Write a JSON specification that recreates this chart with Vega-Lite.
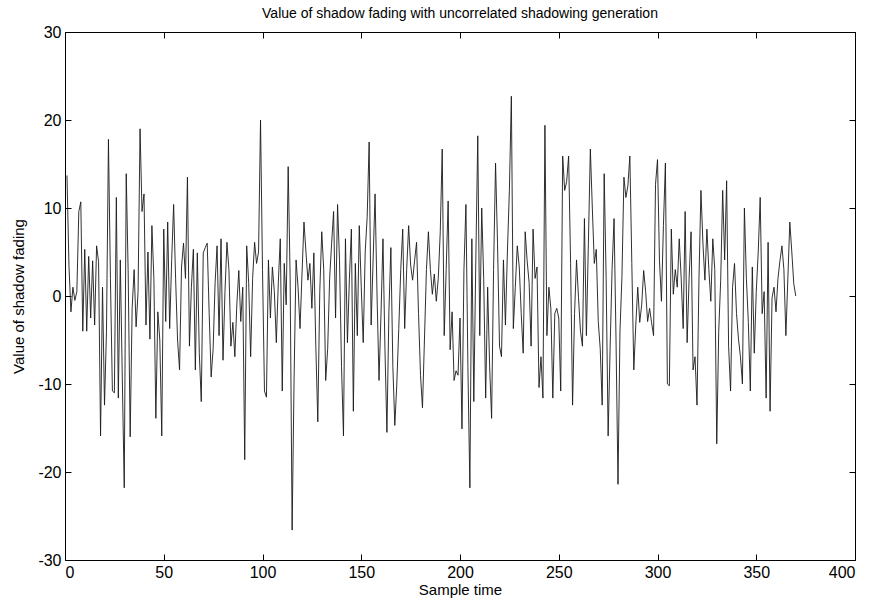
{
  "$schema": "https://vega.github.io/schema/vega-lite/v6.json",
  "autosize": "none",
  "width": 790,
  "height": 528,
  "padding": {"left": 65, "top": 32, "right": 28, "bottom": 46},
  "background": "#ffffff",
  "config": {
    "font": "Liberation Sans",
    "view": {"stroke": "#000000", "strokeWidth": 1},
    "axis": {"labelFont": "Liberation Sans", "titleFont": "Liberation Sans", "labelColor": "#000", "titleColor": "#000", "domainColor": "#000", "tickColor": "#000", "grid": false, "titleFontWeight": "normal"}
  },
  "title": {"text": "Value of shadow fading with uncorrelated shadowing generation", "fontSize": 14, "fontWeight": "normal", "font": "Liberation Sans", "color": "#000", "offset": 3},
  "data": {"values": [
    {"t":1,"v":13.7},{"t":2,"v":3.5},{"t":3,"v":-1.8},{"t":4,"v":1.0},{"t":5,"v":-0.5},{"t":6,"v":0.5},{"t":7,"v":9.6},{"t":8,"v":10.7},{"t":9,"v":-4.0},{"t":10,"v":5.3},
    {"t":11,"v":-4.0},{"t":12,"v":4.5},{"t":13,"v":-2.5},{"t":14,"v":4.0},{"t":15,"v":-3.3},{"t":16,"v":5.7},{"t":17,"v":3.9},{"t":18,"v":-15.9},{"t":19,"v":1.0},{"t":20,"v":-12.4},
    {"t":21,"v":-4.0},{"t":22,"v":17.8},{"t":23,"v":2.0},{"t":24,"v":-10.8},{"t":25,"v":-11.0},{"t":26,"v":11.2},{"t":27,"v":-11.6},{"t":28,"v":4.1},{"t":29,"v":-9.2},{"t":30,"v":-21.8},
    {"t":31,"v":13.9},{"t":32,"v":2.5},{"t":33,"v":-16.0},{"t":34,"v":-1.4},{"t":35,"v":3.0},{"t":36,"v":-3.5},{"t":37,"v":0.5},{"t":38,"v":19.0},{"t":39,"v":9.6},{"t":40,"v":11.6},
    {"t":41,"v":-3.3},{"t":42,"v":5.0},{"t":43,"v":-4.9},{"t":44,"v":8.0},{"t":45,"v":2.0},{"t":46,"v":-13.9},{"t":47,"v":-1.8},{"t":48,"v":-5.0},{"t":49,"v":-15.9},{"t":50,"v":7.6},
    {"t":51,"v":-2.9},{"t":52,"v":8.4},{"t":53,"v":-3.7},{"t":54,"v":4.0},{"t":55,"v":10.4},{"t":56,"v":2.0},{"t":57,"v":-5.0},{"t":58,"v":-8.4},{"t":59,"v":3.3},{"t":60,"v":6.0},
    {"t":61,"v":2.0},{"t":62,"v":13.5},{"t":63,"v":-5.7},{"t":64,"v":1.0},{"t":65,"v":5.3},{"t":66,"v":-8.4},{"t":67,"v":4.9},{"t":68,"v":-6.5},{"t":69,"v":-12.0},{"t":70,"v":4.9},
    {"t":71,"v":5.5},{"t":72,"v":6.0},{"t":73,"v":-2.0},{"t":74,"v":-9.2},{"t":75,"v":-6.0},{"t":76,"v":1.5},{"t":77,"v":5.7},{"t":78,"v":-4.5},{"t":79,"v":6.5},{"t":80,"v":-7.3},
    {"t":81,"v":0.5},{"t":82,"v":6.1},{"t":83,"v":3.0},{"t":84,"v":-5.7},{"t":85,"v":-3.0},{"t":86,"v":-6.9},{"t":87,"v":-1.0},{"t":88,"v":2.9},{"t":89,"v":-2.9},{"t":90,"v":1.0},
    {"t":91,"v":-18.6},{"t":92,"v":5.7},{"t":93,"v":1.5},{"t":94,"v":-6.9},{"t":95,"v":2.0},{"t":96,"v":6.1},{"t":97,"v":3.7},{"t":98,"v":5.0},{"t":99,"v":20.0},{"t":100,"v":3.0},
    {"t":101,"v":-10.8},{"t":102,"v":-11.5},{"t":103,"v":4.1},{"t":104,"v":-2.5},{"t":105,"v":3.3},{"t":106,"v":0.5},{"t":107,"v":-5.3},{"t":108,"v":1.5},{"t":109,"v":6.5},{"t":110,"v":-10.8},
    {"t":111,"v":3.7},{"t":112,"v":-1.0},{"t":113,"v":14.7},{"t":114,"v":2.0},{"t":115,"v":-26.6},{"t":116,"v":-9.2},{"t":117,"v":4.1},{"t":118,"v":1.0},{"t":119,"v":-3.7},{"t":120,"v":2.5},
    {"t":121,"v":8.4},{"t":122,"v":5.0},{"t":123,"v":1.8},{"t":124,"v":3.7},{"t":125,"v":-1.4},{"t":126,"v":4.9},{"t":127,"v":-5.7},{"t":128,"v":-14.3},{"t":129,"v":0.5},{"t":130,"v":7.3},
    {"t":131,"v":3.0},{"t":132,"v":-9.6},{"t":133,"v":-6.0},{"t":134,"v":2.0},{"t":135,"v":6.0},{"t":136,"v":9.6},{"t":137,"v":-2.5},{"t":138,"v":10.4},{"t":139,"v":4.0},{"t":140,"v":-8.0},
    {"t":141,"v":-15.9},{"t":142,"v":6.5},{"t":143,"v":-5.3},{"t":144,"v":2.0},{"t":145,"v":7.6},{"t":146,"v":-13.1},{"t":147,"v":3.7},{"t":148,"v":-4.5},{"t":149,"v":8.0},{"t":150,"v":1.0},
    {"t":151,"v":-5.3},{"t":152,"v":5.0},{"t":153,"v":9.0},{"t":154,"v":17.5},{"t":155,"v":-3.3},{"t":156,"v":4.0},{"t":157,"v":11.6},{"t":158,"v":0.0},{"t":159,"v":-9.6},{"t":160,"v":-2.0},
    {"t":161,"v":6.5},{"t":162,"v":-6.0},{"t":163,"v":-15.5},{"t":164,"v":-1.8},{"t":165,"v":5.5},{"t":166,"v":-8.0},{"t":167,"v":-14.7},{"t":168,"v":-10.0},{"t":169,"v":-3.7},{"t":170,"v":3.0},
    {"t":171,"v":7.6},{"t":172,"v":-3.7},{"t":173,"v":3.0},{"t":174,"v":8.0},{"t":175,"v":3.5},{"t":176,"v":1.8},{"t":177,"v":4.0},{"t":178,"v":6.1},{"t":179,"v":-2.0},{"t":180,"v":-9.0},
    {"t":181,"v":-12.7},{"t":182,"v":-5.0},{"t":183,"v":3.0},{"t":184,"v":7.3},{"t":185,"v":3.0},{"t":186,"v":0.2},{"t":187,"v":2.5},{"t":188,"v":-0.6},{"t":189,"v":2.0},{"t":190,"v":7.3},
    {"t":191,"v":16.7},{"t":192,"v":-4.5},{"t":193,"v":3.0},{"t":194,"v":10.8},{"t":195,"v":-6.1},{"t":196,"v":-1.8},{"t":197,"v":-9.6},{"t":198,"v":-8.5},{"t":199,"v":-9.0},{"t":200,"v":-2.5},
    {"t":201,"v":-15.1},{"t":202,"v":3.0},{"t":203,"v":10.4},{"t":204,"v":-8.0},{"t":205,"v":-21.8},{"t":206,"v":6.5},{"t":207,"v":-12.0},{"t":208,"v":4.0},{"t":209,"v":18.2},{"t":210,"v":-4.5},
    {"t":211,"v":10.0},{"t":212,"v":2.0},{"t":213,"v":-11.6},{"t":214,"v":1.0},{"t":215,"v":-8.0},{"t":216,"v":-13.9},{"t":217,"v":3.0},{"t":218,"v":15.1},{"t":219,"v":6.0},{"t":220,"v":-5.7},
    {"t":221,"v":-6.9},{"t":222,"v":4.1},{"t":223,"v":-3.3},{"t":224,"v":5.0},{"t":225,"v":12.0},{"t":226,"v":22.7},{"t":227,"v":-3.7},{"t":228,"v":1.0},{"t":229,"v":5.7},{"t":230,"v":3.3},
    {"t":231,"v":-2.0},{"t":232,"v":-6.5},{"t":233,"v":7.3},{"t":234,"v":4.0},{"t":235,"v":1.5},{"t":236,"v":-5.7},{"t":237,"v":7.6},{"t":238,"v":2.0},{"t":239,"v":3.3},{"t":240,"v":-10.4},
    {"t":241,"v":-6.9},{"t":242,"v":-11.6},{"t":243,"v":19.4},{"t":244,"v":-4.5},{"t":245,"v":1.0},{"t":246,"v":-1.4},{"t":247,"v":-11.6},{"t":248,"v":-2.0},{"t":249,"v":-1.4},{"t":250,"v":-2.5},
    {"t":251,"v":-10.8},{"t":252,"v":15.9},{"t":253,"v":12.0},{"t":254,"v":13.0},{"t":255,"v":15.9},{"t":256,"v":3.7},{"t":257,"v":-12.4},{"t":258,"v":-2.0},{"t":259,"v":4.1},{"t":260,"v":-0.2},
    {"t":261,"v":-4.0},{"t":262,"v":-5.7},{"t":263,"v":8.8},{"t":264,"v":-4.5},{"t":265,"v":6.0},{"t":266,"v":16.7},{"t":267,"v":10.0},{"t":268,"v":3.7},{"t":269,"v":5.3},{"t":270,"v":-2.9},
    {"t":271,"v":-6.0},{"t":272,"v":-12.4},{"t":273,"v":13.9},{"t":274,"v":2.0},{"t":275,"v":-15.9},{"t":276,"v":-6.0},{"t":277,"v":3.0},{"t":278,"v":8.8},{"t":279,"v":-5.0},{"t":280,"v":-21.4},
    {"t":281,"v":-4.0},{"t":282,"v":2.2},{"t":283,"v":13.5},{"t":284,"v":11.2},{"t":285,"v":12.5},{"t":286,"v":15.9},{"t":287,"v":3.7},{"t":288,"v":-8.4},{"t":289,"v":-3.3},{"t":290,"v":1.0},
    {"t":291,"v":-3.0},{"t":292,"v":-1.0},{"t":293,"v":2.9},{"t":294,"v":0.5},{"t":295,"v":-2.9},{"t":296,"v":-1.4},{"t":297,"v":-3.0},{"t":298,"v":-4.5},{"t":299,"v":12.7},{"t":300,"v":15.5},
    {"t":301,"v":4.0},{"t":302,"v":-0.6},{"t":303,"v":8.0},{"t":304,"v":15.1},{"t":305,"v":-10.0},{"t":306,"v":-10.2},{"t":307,"v":7.6},{"t":308,"v":0.2},{"t":309,"v":3.0},{"t":310,"v":1.0},
    {"t":311,"v":6.5},{"t":312,"v":2.0},{"t":313,"v":-3.7},{"t":314,"v":9.6},{"t":315,"v":-5.3},{"t":316,"v":2.0},{"t":317,"v":7.3},{"t":318,"v":-8.4},{"t":319,"v":-6.9},{"t":320,"v":-12.4},
    {"t":321,"v":2.0},{"t":322,"v":12.0},{"t":323,"v":6.0},{"t":324,"v":1.8},{"t":325,"v":7.6},{"t":326,"v":3.0},{"t":327,"v":-0.6},{"t":328,"v":6.5},{"t":329,"v":3.0},{"t":330,"v":-16.8},
    {"t":331,"v":-4.0},{"t":332,"v":1.8},{"t":333,"v":12.0},{"t":334,"v":4.1},{"t":335,"v":13.1},{"t":336,"v":-5.7},{"t":337,"v":-10.8},{"t":338,"v":1.0},{"t":339,"v":3.7},{"t":340,"v":-2.0},
    {"t":341,"v":-4.9},{"t":342,"v":-6.9},{"t":343,"v":-10.0},{"t":344,"v":10.0},{"t":345,"v":2.0},{"t":346,"v":-3.0},{"t":347,"v":-10.8},{"t":348,"v":3.3},{"t":349,"v":-6.5},{"t":350,"v":0.5},
    {"t":351,"v":5.0},{"t":352,"v":11.2},{"t":353,"v":-2.0},{"t":354,"v":0.5},{"t":355,"v":-11.6},{"t":356,"v":6.1},{"t":357,"v":-13.1},{"t":358,"v":-0.2},{"t":359,"v":1.0},{"t":360,"v":-1.8},
    {"t":361,"v":2.0},{"t":362,"v":4.0},{"t":363,"v":5.7},{"t":364,"v":3.0},{"t":365,"v":-4.5},{"t":366,"v":2.0},{"t":367,"v":8.4},{"t":368,"v":5.0},{"t":369,"v":1.4},{"t":370,"v":0.0}
  ]},
  "layer": [
    {
      "mark": {"type": "line", "color": "#1a1a1a", "strokeWidth": 0.9},
      "encoding": {
        "x": {"field": "t", "type": "quantitative", "scale": {"domain": [0, 400], "nice": false, "zero": false},
              "axis": {"values": [0,50,100,150,200,250,300,350,400], "labelExpr": "'' + datum.value", "title": "Sample time", "titleFontSize": 15, "labelFontSize": 16, "tickSize": -6, "labelPadding": 10, "titlePadding": 2, "domain": false}},
        "y": {"field": "v", "type": "quantitative", "scale": {"domain": [-30, 30], "nice": false},
              "axis": {"values": [-30,-20,-10,0,10,20,30], "labelExpr": "'' + datum.value", "title": "Value of shadow fading", "titleFontSize": 15, "labelFontSize": 16, "tickSize": -6, "labelPadding": 10, "titlePadding": 11, "domain": false}}
      }
    },
    {
      "mark": {"type": "line", "opacity": 0},
      "encoding": {
        "x": {"field": "t", "type": "quantitative", "axis": {"orient": "top", "values": [0,50,100,150,200,250,300,350,400], "labels": false, "title": null, "tickSize": -6, "domain": false}},
        "y": {"field": "v", "type": "quantitative", "axis": {"orient": "right", "values": [-30,-20,-10,0,10,20,30], "labels": false, "title": null, "tickSize": -6, "domain": false}}
      }
    }
  ],
  "resolve": {"axis": {"x": "independent", "y": "independent"}}
}
